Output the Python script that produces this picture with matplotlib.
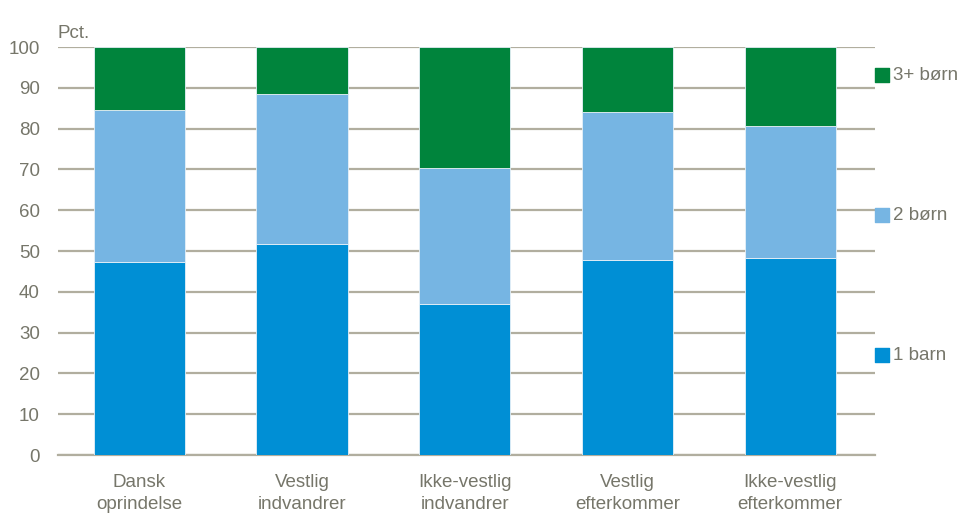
import matplotlib.pyplot as plt
import numpy as np

plt.rcParams['font.family'] = ['Liberation Sans', 'DejaVu Sans']

categories = ['Dansk\noprindelse', 'Vestlig\nindvandrer', 'Ikke-vestlig\nindvandrer',
              'Vestlig\nefterkommer', 'Ikke-vestlig\nefterkommer']
barn1 = [47.4, 51.8, 37.1, 47.8, 48.3]
boern2 = [37.2, 36.7, 33.2, 36.3, 32.3]
boern3 = [15.4, 11.5, 29.7, 15.9, 19.4]
series_names = ['1 barn', '2 børn', '3+ børn']
legend_y = [24.5, 58.8, 93.1]

colors = ['#008fd5', '#76b5e3', '#00843c']
grid_col = '#b1ae9f'
text_col = '#76766a'

fig = plt.figure(figsize=(9.58, 5.15), dpi=100)
ax = fig.add_axes([0.0605, 0.1165, 0.8525, 0.7922])

x = np.arange(len(categories))
bottom = np.zeros(len(categories))
for vals, c in zip([barn1, boern2, boern3], colors):
    ax.bar(x, vals, width=0.56, bottom=bottom, color=c, edgecolor='#e6f0f8',
           linewidth=0.6, zorder=3)
    bottom += np.array(vals)

ax.set_xlim(-0.5, 4.52)
ax.set_ylim(0, 100)
ax.set_yticks(range(0, 101, 10))
ax.yaxis.grid(True, color=grid_col, linewidth=1.6, zorder=0)
ax.set_axisbelow(True)
for s in ['top', 'right', 'left']:
    ax.spines[s].set_visible(False)
ax.spines['bottom'].set_color(grid_col)
ax.spines['bottom'].set_linewidth(1.6)
ax.tick_params(axis='both', length=0, colors=text_col, labelsize=13.5)
ax.tick_params(axis='y', pad=13)
ax.tick_params(axis='x', pad=14)
ax.set_xticks(x)
ax.set_xticklabels(categories, linespacing=1.35)

ax.text(0.0, 1.012, 'Pct.', transform=ax.transAxes, color=text_col,
        fontsize=13.5, ha='left', va='bottom')

# manuel legende til hoejre
trans = ax.get_yaxis_transform()
for name, c, yy in zip(series_names, colors, legend_y):
    ax.scatter([1.009], [yy], marker='s', s=90, color=c, transform=trans,
               clip_on=False)
    ax.text(1.022, yy, name, transform=trans, color=text_col, fontsize=13.5,
            va='center', ha='left')

fig.savefig('out.png', dpi=100)
